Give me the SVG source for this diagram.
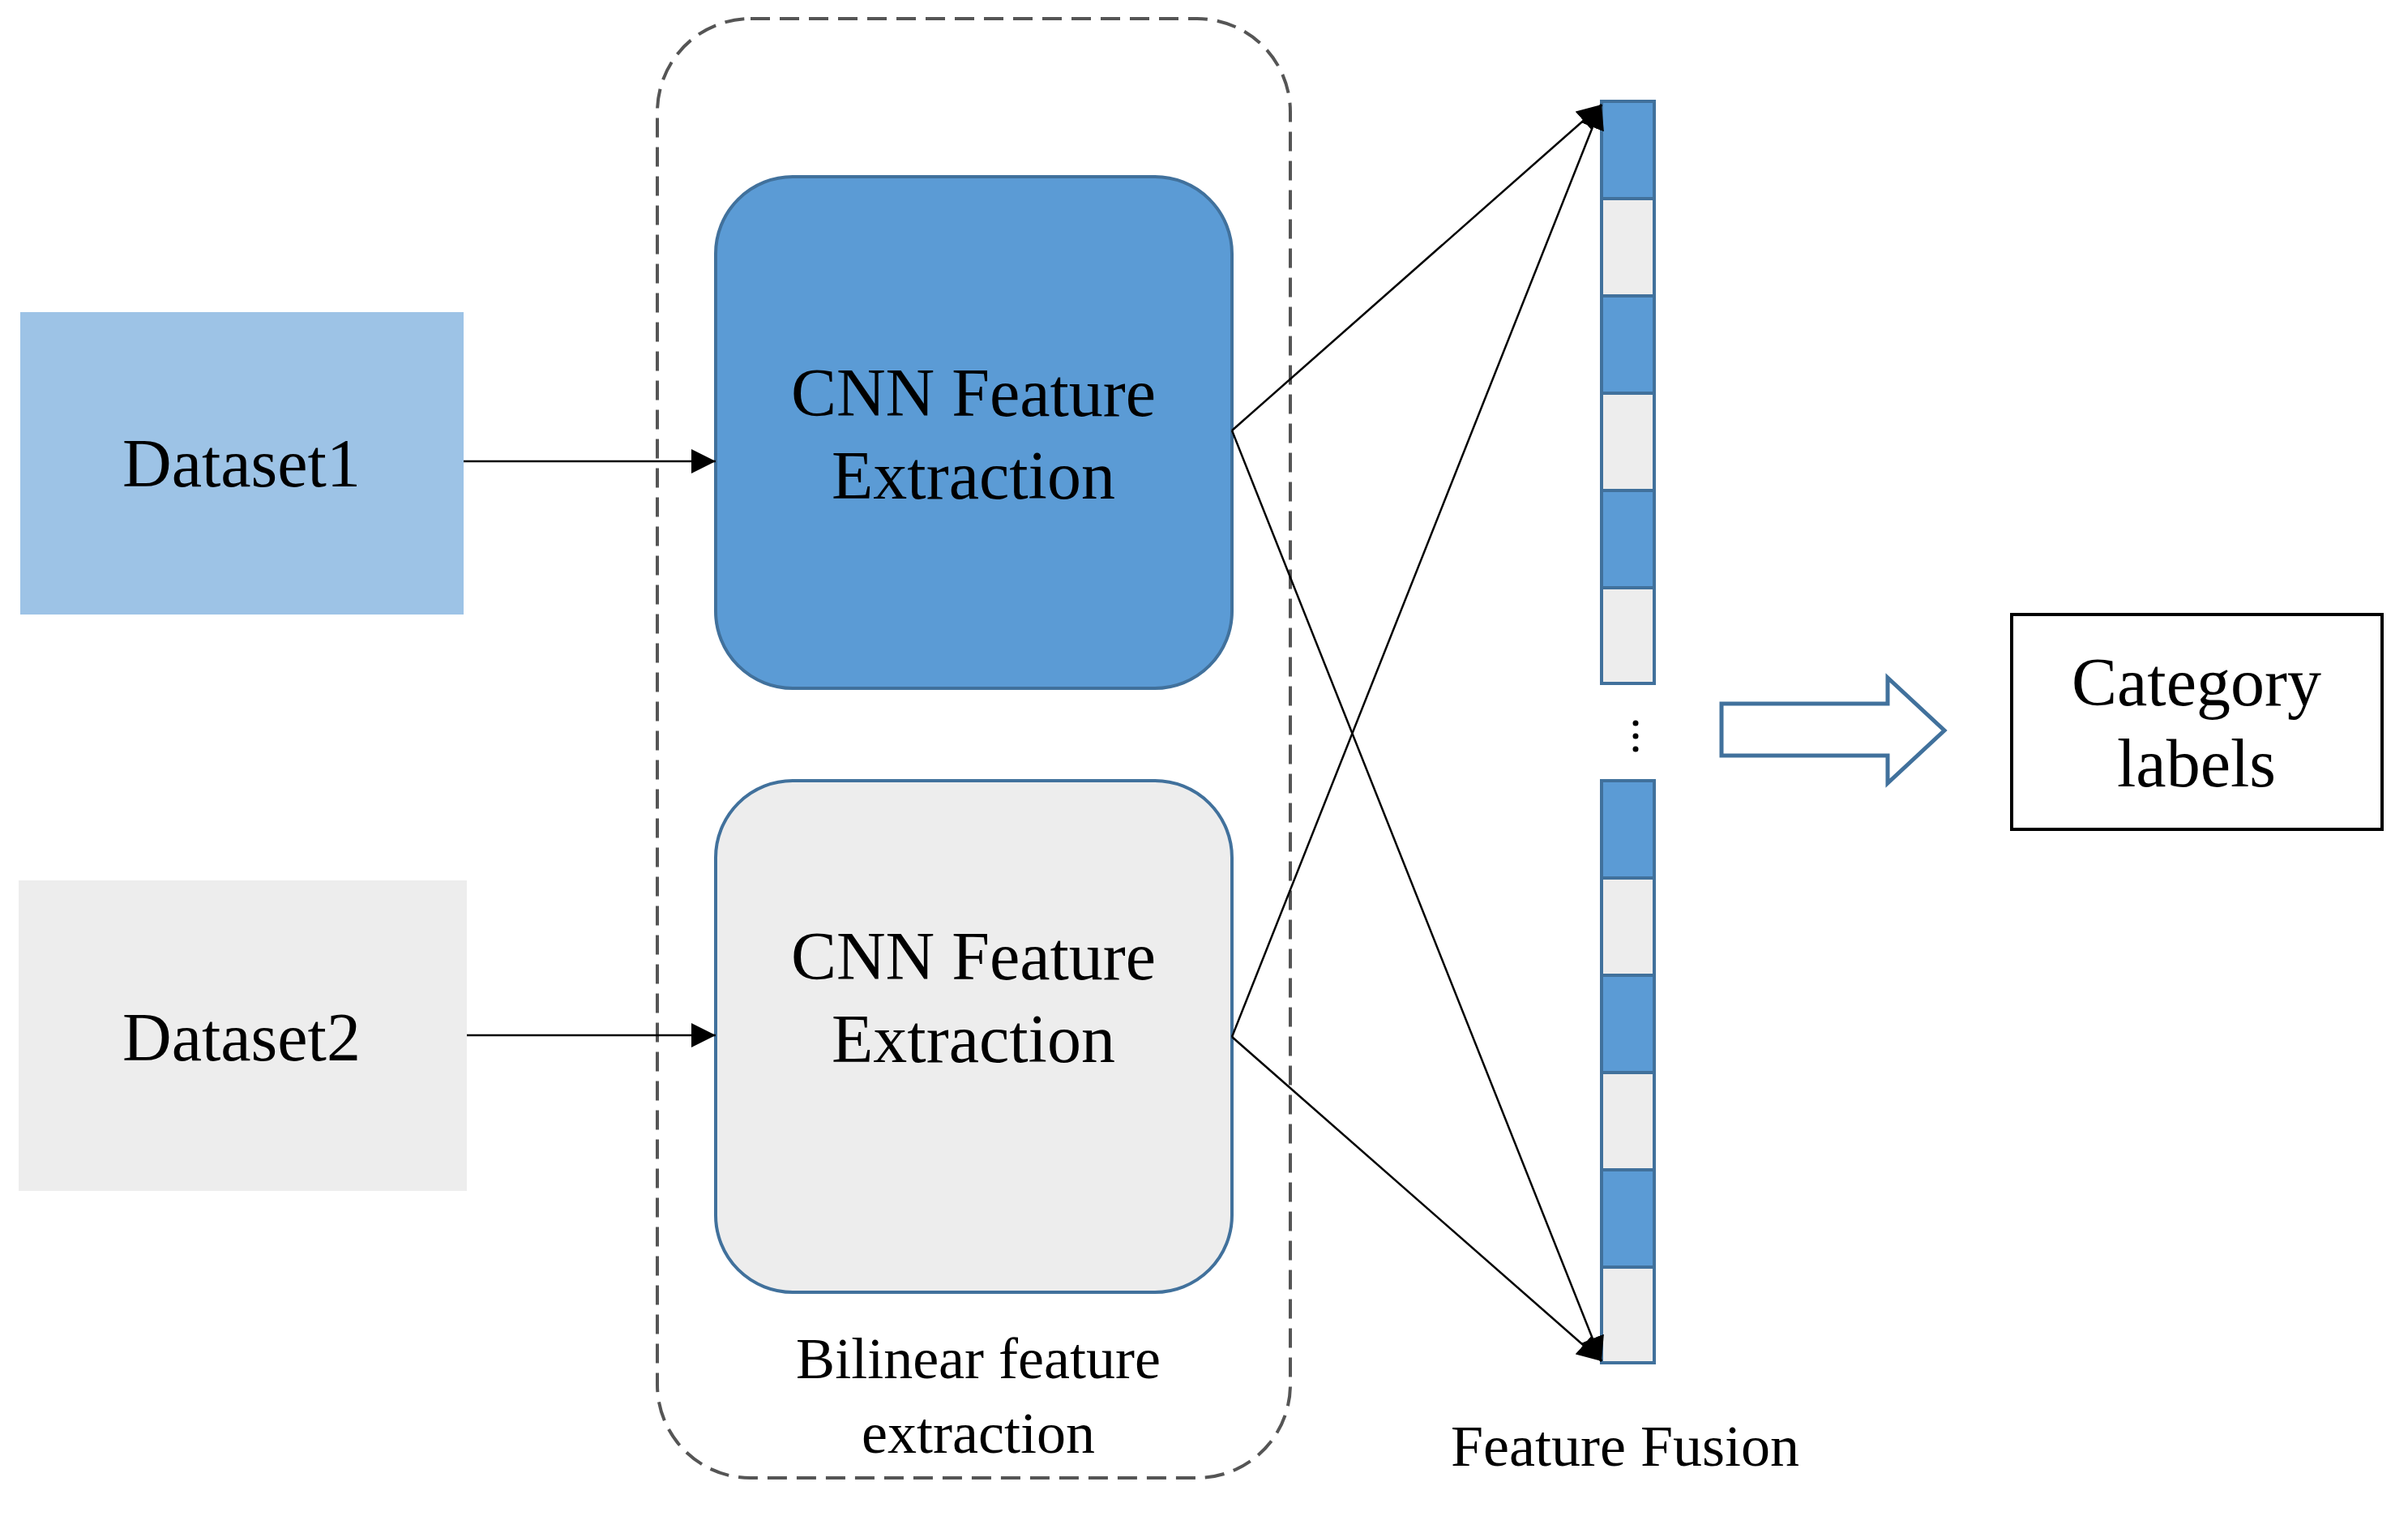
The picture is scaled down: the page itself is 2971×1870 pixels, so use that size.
<svg xmlns="http://www.w3.org/2000/svg" width="2971" height="1870" viewBox="0 0 2971 1870">
<style>
text{font-family:"Liberation Serif","Times New Roman",serif;fill:#000;text-anchor:middle}
.big{font-size:84px}.sm{font-size:72px}
.ln{stroke:#000;stroke-width:2.5;fill:none}
.b{fill:#5b9bd5;stroke:#41719c;stroke-width:4}
.g{fill:#ededed;stroke:#41719c;stroke-width:4}
</style>
<defs><marker id="ah" viewBox="0 0 10 10" refX="10" refY="5" markerWidth="8" markerHeight="8" markerUnits="userSpaceOnUse" orient="auto"><path d="M0,0L10,5L0,10z" fill="#000"/></marker>
<marker id="ah2" viewBox="0 0 10 10" refX="10" refY="5" markerWidth="12" markerHeight="12" orient="auto"><path d="M0,0L10,5L0,10z" fill="#000"/></marker></defs>
<g id="container"><rect x="811" y="23" width="781" height="1800" rx="115" fill="none" stroke="#555" stroke-width="4" stroke-dasharray="24,12"/>
<text class="sm" x="1207" y="1700">Bilinear feature</text><text class="sm" x="1207" y="1792">extraction</text></g>
<g id="dataset1"><rect x="25" y="385" width="547" height="373" fill="#9dc3e6"/><text class="big" x="298" y="600">Dataset1</text></g>
<g id="dataset2"><rect x="23" y="1086" width="553" height="383" fill="#ededed"/><text class="big" x="298" y="1308">Dataset2</text></g>
<g id="cnn1"><rect class="b" x="883" y="218" width="637" height="631" rx="95"/><text class="big" x="1201" y="513">CNN Feature</text><text class="big" x="1201" y="615">Extraction</text></g>
<g id="cnn2"><rect class="g" x="883" y="963" width="637" height="631" rx="95"/><text class="big" x="1201" y="1208">CNN Feature</text><text class="big" x="1201" y="1310">Extraction</text></g>
<g id="fusion">
<rect class="b" x="1976" y="125" width="65" height="120"/><rect class="g" x="1976" y="245" width="65" height="120"/>
<rect class="b" x="1976" y="365" width="65" height="120"/><rect class="g" x="1976" y="485" width="65" height="120"/>
<rect class="b" x="1976" y="605" width="65" height="120"/><rect class="g" x="1976" y="725" width="65" height="118"/>
<rect class="b" x="1976" y="963" width="65" height="120"/><rect class="g" x="1976" y="1083" width="65" height="120"/>
<rect class="b" x="1976" y="1203" width="65" height="120"/><rect class="g" x="1976" y="1323" width="65" height="120"/>
<rect class="b" x="1976" y="1443" width="65" height="120"/><rect class="g" x="1976" y="1563" width="65" height="118"/>
<circle cx="2018" cy="892" r="3.5"/><circle cx="2018" cy="908" r="3.5"/><circle cx="2018" cy="924" r="3.5"/>
<text class="sm" x="2005" y="1808">Feature Fusion</text></g>
<g id="category"><rect x="2482" y="758" width="457" height="265" fill="#fff" stroke="#000" stroke-width="4"/><text class="big" x="2710" y="870">Category</text><text class="big" x="2710" y="970">labels</text></g>
<g id="connectors">
<line class="ln" x1="572" y1="569" x2="883" y2="569" marker-end="url(#ah2)"/>
<line class="ln" x1="576" y1="1277" x2="883" y2="1277" marker-end="url(#ah2)"/>
<line class="ln" x1="1520" y1="531" x2="1976" y2="129" marker-end="url(#ah2)"/>
<line class="ln" x1="1520" y1="531" x2="1976" y2="1679" marker-end="url(#ah2)"/>
<line class="ln" x1="1520" y1="1279" x2="1976" y2="129" marker-end="url(#ah2)"/>
<line class="ln" x1="1520" y1="1279" x2="1976" y2="1679" marker-end="url(#ah2)"/>
<path d="M2124,868H2329V836L2399,901L2329,966V932H2124Z" fill="#fff" stroke="#41719c" stroke-width="5"/>
</g>
</svg>
